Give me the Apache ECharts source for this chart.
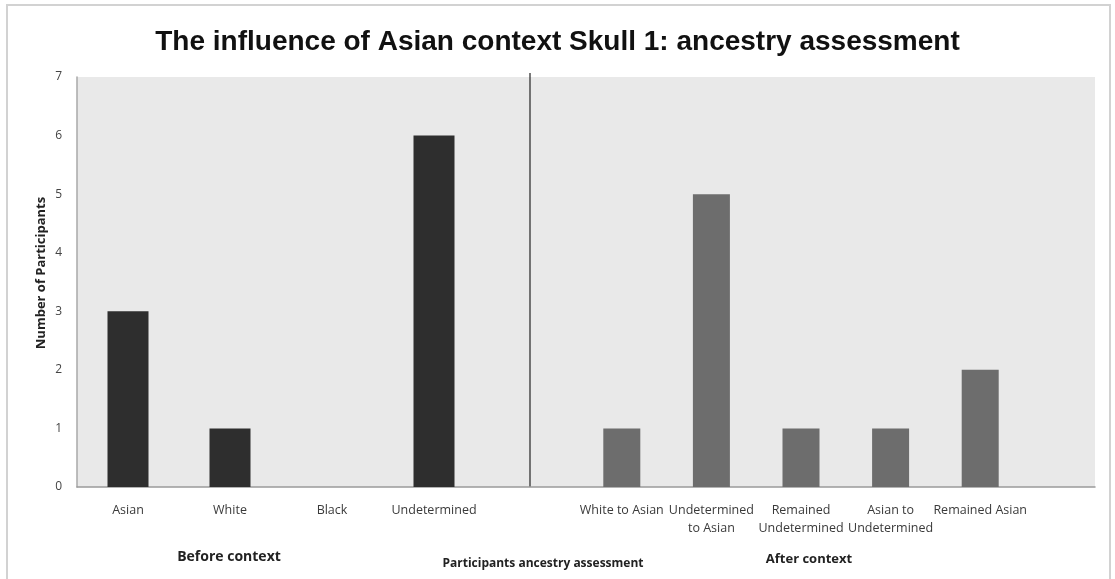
<!DOCTYPE html>
<html>
<head>
<meta charset="utf-8">
<script src="https://cdn.jsdelivr.net/npm/echarts@6/dist/echarts.min.js"></script>
<style>
  html, body { margin: 0; padding: 0; background: #fff; }
  #chart { width: 1115px; height: 579px; }
</style>
</head>
<body>
<div id="chart"></div>
<script>
// Skull 1 ancestry assessments, before and after the Asian context was given
const beforeCategories = ['Asian', 'White', 'Black', 'Undetermined'];
const beforeValues = [3, 1, 0, 6];
const afterCategories = ['White to Asian', 'Undetermined\nto Asian', 'Remained\nUndetermined', 'Asian to\nUndetermined', 'Remained Asian'];
const afterValues = [1, 5, 1, 1, 2];
const yTicks = [0, 1, 2, 3, 4, 5, 6, 7];

const chart = echarts.init(document.getElementById('chart'), null, { renderer: 'canvas' });

const labelFont = { fontFamily: 'Open Sans', fontSize: 12.5, color: '#3a3a3a', lineHeight: 18 };
const plotTop = 77, plotBottom = 92;

const option = {
  animation: false,
  backgroundColor: '#ffffff',
  title: {
    text: 'The influence of Asian context Skull 1: ancestry assessment',
    left: 'center',
    top: 23,
    textStyle: { fontFamily: 'Liberation Sans', fontSize: 28, fontWeight: 'bold', color: '#111' }
  },
  grid: [
    // full plot frame carrying the value axis and the grey background
    { left: 77, right: 20, top: plotTop, bottom: plotBottom, show: true, backgroundColor: '#e9e9e9', borderWidth: 0 },
    // before-context bars
    { left: 77, width: 408, top: plotTop, bottom: plotBottom },
    // after-context bars
    { left: 577, width: 448, top: plotTop, bottom: plotBottom }
  ],
  xAxis: [
    { gridIndex: 0, type: 'value', min: 0, max: 1, axisLine: { show: true, lineStyle: { color: '#9a9a9a', width: 1.5 } },
      axisTick: { show: false }, axisLabel: { show: false }, splitLine: { show: false } },
    { gridIndex: 1, type: 'category', data: beforeCategories, axisLine: { show: false }, axisTick: { show: false },
      axisLabel: Object.assign({ interval: 0, margin: 14 }, labelFont) },
    { gridIndex: 2, type: 'category', data: afterCategories, axisLine: { show: false }, axisTick: { show: false },
      axisLabel: Object.assign({ interval: 0, margin: 14 }, labelFont) }
  ],
  yAxis: [
    { gridIndex: 0, type: 'value', min: yTicks[0], max: yTicks[yTicks.length - 1], interval: 1,
      axisLine: { show: true, lineStyle: { color: '#a8a8a8', width: 1.5 } }, axisTick: { show: false },
      splitLine: { show: false },
      axisLabel: { margin: 15, fontFamily: 'Open Sans', fontSize: 12, color: '#444' } },
    { gridIndex: 1, type: 'value', min: 0, max: 7, show: false },
    { gridIndex: 2, type: 'value', min: 0, max: 7, show: false }
  ],
  series: [
    { type: 'bar', xAxisIndex: 1, yAxisIndex: 1, data: beforeValues, barWidth: 41,
      itemStyle: { color: '#2e2e2e' } },
    { type: 'bar', xAxisIndex: 2, yAxisIndex: 2, data: afterValues, barWidth: 37,
      itemStyle: { color: '#6d6d6d' } }
  ],
  graphic: [
    // outer chart frame
    { type: 'rect', shape: { x: 7, y: 5, width: 1103, height: 590 }, silent: true,
      style: { fill: 'none', stroke: '#d2d2d2', lineWidth: 2 } },
    // separator between before and after context
    { type: 'line', shape: { x1: 530, y1: 73, x2: 530, y2: 487 }, silent: true,
      style: { stroke: '#333', lineWidth: 1.3 } },
    { type: 'text', x: 41, y: 273, rotation: Math.PI / 2, silent: true,
      style: { text: 'Number of Participants', fontFamily: 'Open Sans', fontSize: 13, fontWeight: 'bold',
        fill: '#222', align: 'center', verticalAlign: 'middle' } },
    { type: 'text', x: 229, y: 557, silent: true,
      style: { text: 'Before context', fontFamily: 'Open Sans', fontSize: 14, fontWeight: 'bold',
        fill: '#222', align: 'center', verticalAlign: 'middle' } },
    { type: 'text', x: 543, y: 564, silent: true,
      style: { text: 'Participants ancestry assessment', fontFamily: 'Open Sans', fontSize: 12, fontWeight: 'bold',
        fill: '#222', align: 'center', verticalAlign: 'middle' } },
    { type: 'text', x: 809, y: 559, silent: true,
      style: { text: 'After context', fontFamily: 'Open Sans', fontSize: 13, fontWeight: 'bold',
        fill: '#222', align: 'center', verticalAlign: 'middle' } }
  ]
};

chart.setOption(option);
</script>
</body>
</html>
